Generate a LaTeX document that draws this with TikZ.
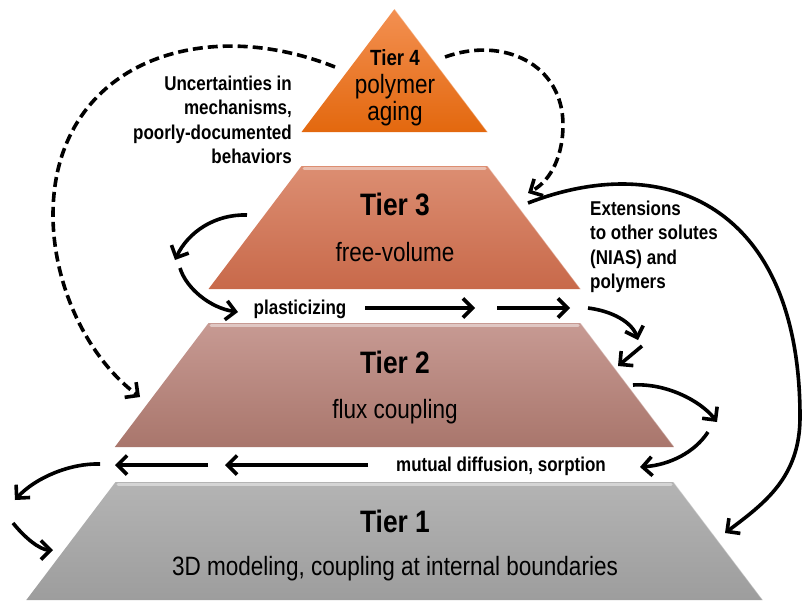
\documentclass[tikz,border=0pt]{standalone}
\usepackage{fontspec}
\setmainfont{Liberation Sans}[FakeStretch=0.85]
\usetikzlibrary{arrows.meta}
\definecolor{tfourtop}{HTML}{F39052}
\definecolor{tfourbot}{HTML}{E3680E}
\definecolor{tthreetop}{HTML}{DC8E72}
\definecolor{tthreebot}{HTML}{C8694A}
\definecolor{ttwotop}{HTML}{C79A93}
\definecolor{ttwobot}{HTML}{A9766C}
\definecolor{tonetop}{HTML}{B4B4B4}
\definecolor{tonebot}{HTML}{9D9D9D}
\begin{document}
\begin{tikzpicture}[x=1pt,y=-1pt,
  conn/.style={line width=3.6pt, -{Straight Barb[length=9.5pt,width=19pt]}},
  dconn/.style={conn, dash pattern=on 10pt off 5pt},
  lbl/.style={font=\bfseries\fontsize{20}{24.5}\selectfont, inner sep=0pt},
  tiertitle/.style={font=\bfseries\fontsize{31}{36}\selectfont, inner sep=0pt, anchor=base},
  tiertext/.style={font=\fontsize{26.5}{27.5}\selectfont, inner sep=0pt, anchor=base},
  bevel/.style={draw=white, draw opacity=0.45, line width=3pt, line cap=round},
  sideedge/.style={draw=white, draw opacity=0.35, line width=1pt},
]
\useasboundingbox (0,0) rectangle (802,600);

% ---- slabs ----
\shade[top color=tfourtop, bottom color=tfourbot]
  (394.5,9) -- (487.5,132) -- (301.5,132) -- cycle;
\shade[top color=tthreetop, bottom color=tthreebot]
  (301.5,166) -- (487.5,166) -- (580.5,289) -- (208.5,289) -- cycle;
\shade[top color=ttwotop, bottom color=ttwobot]
  (208.5,323) -- (580.5,323) -- (674.2,447) -- (114.8,447) -- cycle;
\shade[top color=tonetop, bottom color=tonebot]
  (115.5,482) -- (673.5,482) -- (762.7,600) -- (26.3,600) -- cycle;

% bevel highlights
\draw[bevel] (304,168) -- (485,168);
\draw[bevel] (211,325) -- (578,325);
\draw[bevel] (118,484) -- (671,484);
\draw[sideedge] (487.5,166) -- (580.5,289);
\draw[sideedge] (580.5,323) -- (674.2,447);
\draw[sideedge] (673.5,482) -- (762.7,600);
\draw[sideedge] (394.5,9) -- (487.5,132);

% ---- tier texts ----
\node[tiertitle, font=\bfseries\fontsize{22}{26}\selectfont] (t4title) at (395,65) {Tier 4};
\node[tiertext] (t4texta) at (395,93) {polymer};
\node[tiertext] (t4textb) at (395,120) {aging};
\node[tiertitle] (t3title) at (395,215) {Tier 3};
\node[tiertext] (t3text) at (395,261) {free-volume};
\node[tiertitle] (t2title) at (395,373) {Tier 2};
\node[tiertext] (t2text) at (395,418) {flux coupling};
\node[tiertitle] (t1title) at (395,532) {Tier 1};
\node[tiertext] (t1text) at (395,575) {3D modeling, coupling at internal boundaries};

% ---- side labels ----
\node[lbl, anchor=base east, align=right] (unc) at (292,163.5)
  {Uncertainties in\\mechanisms,\\poorly-documented\\behaviors};
\node[lbl, anchor=base west, align=left] (ext) at (590,288.5)
  {Extensions\\to other solutes\\(NIAS) and\\polymers};
\node[lbl, anchor=base] (plast) at (300,314) {plasticizing};
\node[lbl, anchor=base] (mutual) at (501,471) {mutual diffusion, sorption};

% ---- arrow end points ----
\coordinate (pa1s) at (365,308);
\coordinate (pa1e) at (475,308);
\coordinate (pa2s) at (497,308);
\coordinate (pa2e) at (570,308);
\coordinate (ma1s) at (368,465);
\coordinate (ma1e) at (225,465);
\coordinate (ma2s) at (208,465);
\coordinate (ma2e) at (115,465);

\coordinate (la1s) at (247,215);
\coordinate (la1e) at (175,260);
\coordinate (la2s) at (180,268);
\coordinate (la2e) at (238,312);

\coordinate (ra1s) at (588,308);
\coordinate (ra1e) at (638,340);
\coordinate (ra2s) at (642,346);
\coordinate (ra2e) at (618,366);
\coordinate (ra3s) at (633,385);
\coordinate (ra3e) at (717,422);
\coordinate (ra4s) at (708,432);
\coordinate (ra4e) at (640,467);

\coordinate (ba1s) at (100,464);
\coordinate (ba1e) at (15,500);
\coordinate (ba2s) at (13,523);
\coordinate (ba2e) at (53,550);

\coordinate (bigs) at (528,203);
\coordinate (bigm) at (800,417);
\coordinate (bige) at (725,533);

\coordinate (dls) at (335,67);
\coordinate (dlm) at (53,215);
\coordinate (dle) at (140,397);
\coordinate (drs) at (445,57);
\coordinate (drm) at (563,125);
\coordinate (dre) at (528,193);

% ---- straight arrows ----
\draw[conn] (pa1s) -- (pa1e);
\draw[conn] (pa2s) -- (pa2e);
\draw[conn] (ma1s) -- (ma1e);
\draw[conn] (ma2s) -- (ma2e);

% ---- curved arrows ----
\draw[conn] (la1s) .. controls (215,214) and (188,232) .. (la1e);
\draw[conn] (la2s) .. controls (186,288) and (210,308) .. (la2e);
\draw[conn] (ra1s) .. controls (612,311) and (632,322) .. (ra1e);
\draw[conn] (ra2s) -- (ra2e);
\draw[conn] (ra3s) .. controls (665,383) and (700,400) .. (ra3e);
\draw[conn] (ra4s) .. controls (695,452) and (670,465) .. (ra4e);
\draw[conn] (ba1s) .. controls (70,463) and (35,478) .. (ba1e);
\draw[conn] (ba2s) .. controls (25,538) and (40,550) .. (ba2e);

\draw[conn] (bigs) .. controls (667.5,149) and (800,207) .. (bigm)
                   .. controls (800,477) and (765,503) .. (bige);

% ---- dashed arcs ----
\draw[dconn] (dls) .. controls (197,12) and (53,67) .. (dlm)
                   .. controls (53,283) and (85.6,356) .. (dle);
\draw[dconn] (drs) .. controls (503,36) and (563,64) .. (drm)
                   .. controls (563,153) and (552.6,179.8) .. (dre);
\end{tikzpicture}
\end{document}
